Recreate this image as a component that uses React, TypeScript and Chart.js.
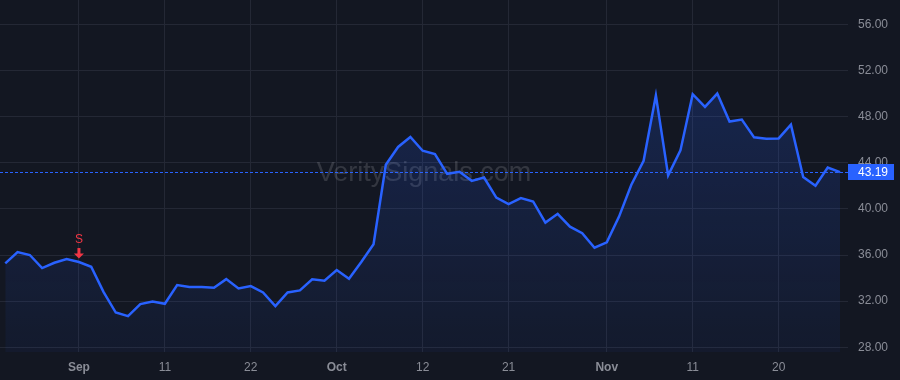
import React, { useEffect, useRef } from "react";
import { Chart, registerables } from "chart.js";

Chart.register(...registerables);

// Daily closes (trading days), index 0 .. 68
const prices: number[] = [
  35.28, 36.26, 36.0, 34.87, 35.33, 35.65, 35.39, 34.98, 32.81, 31.01,
  30.7, 31.74, 31.97, 31.77, 33.39, 33.22, 33.22, 33.16, 33.91, 33.1,
  33.3, 32.75, 31.57, 32.75, 32.93, 33.89, 33.77, 34.7, 33.94, 35.4,
  36.93, 43.83, 45.37, 46.23, 45.04, 44.75, 43.04, 43.22, 42.43, 42.72,
  40.98, 40.41, 40.93, 40.64, 38.81, 39.57, 38.46, 37.89, 36.63, 37.1,
  39.33, 42.09, 44.17, 49.83, 42.9, 45.07, 49.94, 48.84, 50.0, 47.57,
  47.74, 46.2, 46.09, 46.11, 47.3, 42.76, 42.0, 43.59, 43.19,
];

const xTickIndex: number[] = [6, 13, 20, 27, 34, 41, 49, 56, 63];
const xTickLabels: string[] = ["Sep", "11", "22", "Oct", "12", "21", "Nov", "11", "20"];
const xTickIsMonth: boolean[] = [true, false, false, true, false, false, true, false, false];
const yTicks: number[] = [28, 32, 36, 40, 44, 48, 52, 56];

const signalIndex: number[] = [6];
const signalLabels: string[] = ["S"];

const lastPrice = prices[prices.length - 1];
const watermark = "VeritySignals.com";

const BG = "#131722";
const BLUE = "#2962ff";
const RED = "#f23645";
const GRID = "#242835";
const TEXT = "#8a8d97";
const FONT = "'Liberation Sans', Arial, sans-serif";

const overlayPlugin = {
  id: "overlay",
  beforeDatasetsDraw(chart: any) {
    const { ctx, chartArea } = chart;
    ctx.save();
    ctx.font = `27px ${FONT}`;
    ctx.fillStyle = "rgba(255,255,255,0.14)";
    ctx.textAlign = "center";
    ctx.textBaseline = "middle";
    ctx.fillText(watermark, (chartArea.left + chartArea.right) / 2, 174);
    ctx.restore();
  },
  afterDraw(chart: any) {
    const { ctx, chartArea, scales } = chart;
    const y = scales.y;
    const x = scales.x;
    const py = Math.round(y.getPixelForValue(lastPrice)) + 0.5;
    ctx.save();
    // dashed last price line
    ctx.strokeStyle = BLUE;
    ctx.lineWidth = 1;
    ctx.setLineDash([3, 2]);
    ctx.beginPath();
    ctx.moveTo(chartArea.left, py);
    ctx.lineTo(chartArea.right, py);
    ctx.stroke();
    ctx.setLineDash([]);
    // price label
    const bx = chartArea.right;
    ctx.fillStyle = BLUE;
    ctx.fillRect(bx, py - 8.5, 46, 16);
    ctx.fillStyle = "#ffffff";
    ctx.font = `12px ${FONT}`;
    ctx.textAlign = "left";
    ctx.textBaseline = "middle";
    ctx.fillText(lastPrice.toFixed(2), bx + 10, py);
    // signal markers
    signalIndex.forEach((idx, k) => {
      const sx = x.getPixelForValue(idx);
      const sy = y.getPixelForValue(prices[idx]);
      ctx.fillStyle = RED;
      ctx.font = `12px ${FONT}`;
      ctx.textAlign = "center";
      ctx.textBaseline = "middle";
      ctx.fillText(signalLabels[k], sx, sy - 22);
      ctx.fillRect(sx - 1.5, sy - 14, 3, 6);
      ctx.beginPath();
      ctx.moveTo(sx - 5, sy - 8.5);
      ctx.lineTo(sx + 5, sy - 8.5);
      ctx.lineTo(sx, sy - 3.5);
      ctx.closePath();
      ctx.fill();
    });
    ctx.restore();
  },
};

export default function App() {
  const canvasRef = useRef<HTMLCanvasElement | null>(null);

  useEffect(() => {
    document.body.style.margin = "0";
    document.body.style.background = BG;
    const canvas = canvasRef.current;
    if (!canvas) return;
    const chart = new Chart(canvas, {
      type: "line",
      data: {
        datasets: [
          {
            data: prices.map((v, i) => ({ x: i, y: v })),
            borderColor: BLUE,
            borderWidth: 2.5,
            pointRadius: 0,
            tension: 0,
            fill: "start",
            backgroundColor: (context: any) => {
              const { chart } = context;
              const { ctx, chartArea } = chart;
              if (!chartArea) return "rgba(41,98,255,0.1)";
              const g = ctx.createLinearGradient(0, chartArea.top, 0, chartArea.bottom);
              g.addColorStop(0, "rgba(41,98,255,0.24)");
              g.addColorStop(1, "rgba(41,98,255,0.05)");
              return g;
            },
          },
        ],
      },
      options: {
        animation: false,
        responsive: false,
        maintainAspectRatio: false,
        layout: { padding: 0 },
        plugins: {
          legend: { display: false },
          tooltip: { enabled: false },
        },
        scales: {
          x: {
            type: "linear",
            min: -0.43,
            max: 68.65,
            afterBuildTicks: (axis: any) => {
              axis.ticks = xTickIndex.map((v) => ({ value: v }));
            },
            afterFit: (axis: any) => {
              axis.height = 28;
              axis.paddingLeft = 0;
              axis.paddingRight = 0;
            },
            grid: { color: GRID, drawTicks: false },
            border: { display: false },
            ticks: {
              autoSkip: false,
              maxRotation: 0,
              padding: 8,
              color: TEXT,
              font: (ctx: any) => {
                const i = xTickIndex.indexOf(ctx.tick?.value);
                return { family: FONT, size: 12, weight: i >= 0 && xTickIsMonth[i] ? "bold" : "normal" };
              },
              callback: (v: any) => {
                const i = xTickIndex.indexOf(Number(v));
                return i >= 0 ? xTickLabels[i] : "";
              },
            },
          },
          y: {
            position: "right",
            min: 27.59,
            max: 58.11,
            afterBuildTicks: (axis: any) => {
              axis.ticks = yTicks.map((v) => ({ value: v }));
            },
            afterFit: (axis: any) => {
              axis.width = 52;
              axis.paddingTop = 0;
              axis.paddingBottom = 0;
            },
            grid: { color: GRID, drawTicks: false },
            border: { display: false },
            ticks: {
              padding: 10,
              color: TEXT,
              font: { family: FONT, size: 12 },
              callback: (v: any) => Number(v).toFixed(2),
            },
          },
        },
      },
      plugins: [overlayPlugin],
    });
    return () => chart.destroy();
  }, []);

  return (
    <div style={{ position: "absolute", left: 0, top: 0, width: 900, height: 380, background: BG }}>
      <canvas ref={canvasRef} width={900} height={380} style={{ display: "block", width: 900, height: 380 }} />
    </div>
  );
}
